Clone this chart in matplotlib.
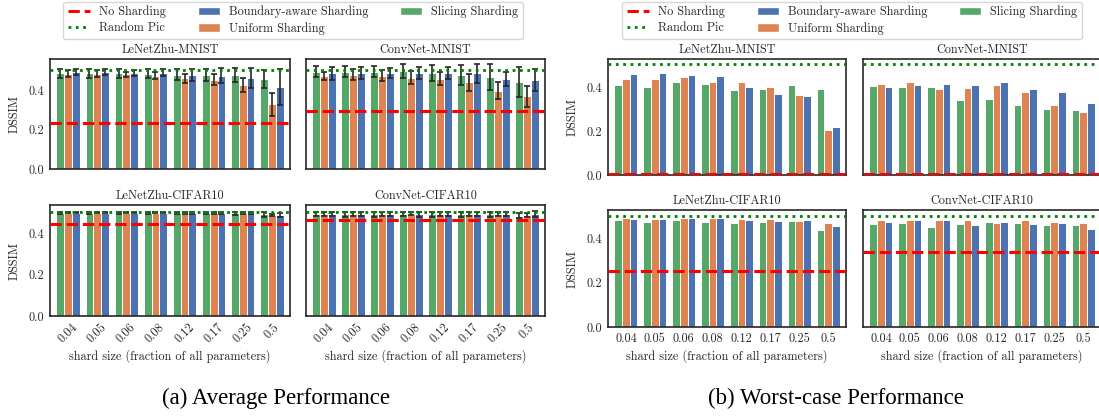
import numpy as np
import matplotlib
matplotlib.use("Agg")
import matplotlib.pyplot as plt
from matplotlib.lines import Line2D
from matplotlib.patches import Patch

# ---------------- data ----------------
SHARD_SIZES = ["0.04", "0.05", "0.06", "0.08", "0.12", "0.17", "0.25", "0.5"]
SERIES = ["Slicing Sharding", "Uniform Sharding", "Boundary-aware Sharding"]
TITLES = ["LeNetZhu-MNIST", "ConvNet-MNIST", "LeNetZhu-CIFAR10", "ConvNet-CIFAR10"]

# (a) Average performance
AVG_LENET_MNIST_SLICING = [0.488, 0.488, 0.488, 0.487, 0.480, 0.480, 0.479, 0.459]
AVG_LENET_MNIST_UNIFORM = [0.485, 0.485, 0.483, 0.475, 0.463, 0.454, 0.429, 0.330]
AVG_LENET_MNIST_BOUNDARY = [0.493, 0.495, 0.490, 0.490, 0.480, 0.475, 0.464, 0.417]
AVG_LENET_MNIST_SLICING_ERR = [0.022, 0.024, 0.024, 0.025, 0.028, 0.030, 0.035, 0.047]
AVG_LENET_MNIST_UNIFORM_ERR = [0.018, 0.018, 0.014, 0.018, 0.022, 0.028, 0.036, 0.060]
AVG_LENET_MNIST_BOUNDARY_ERR = [0.015, 0.016, 0.016, 0.018, 0.030, 0.038, 0.050, 0.093]

AVG_CONV_MNIST_SLICING = [0.497, 0.497, 0.497, 0.500, 0.490, 0.480, 0.470, 0.444]
AVG_CONV_MNIST_UNIFORM = [0.475, 0.481, 0.475, 0.466, 0.460, 0.442, 0.400, 0.370]
AVG_CONV_MNIST_BOUNDARY = [0.488, 0.490, 0.490, 0.488, 0.488, 0.488, 0.458, 0.454]
AVG_CONV_MNIST_SLICING_ERR = [0.027, 0.030, 0.030, 0.035, 0.040, 0.050, 0.066, 0.078]
AVG_CONV_MNIST_UNIFORM_ERR = [0.021, 0.028, 0.028, 0.035, 0.033, 0.044, 0.042, 0.055]
AVG_CONV_MNIST_BOUNDARY_ERR = [0.034, 0.030, 0.025, 0.030, 0.030, 0.047, 0.037, 0.055]

AVG_LENET_CIFAR_SLICING = [0.502, 0.502, 0.502, 0.502, 0.501, 0.500, 0.498, 0.494]
AVG_LENET_CIFAR_UNIFORM = [0.501, 0.501, 0.501, 0.501, 0.500, 0.500, 0.498, 0.490]
AVG_LENET_CIFAR_BOUNDARY = [0.501, 0.501, 0.501, 0.501, 0.500, 0.500, 0.499, 0.490]
AVG_LENET_CIFAR_SLICING_ERR = [0.005, 0.005, 0.005, 0.005, 0.006, 0.006, 0.007, 0.012]
AVG_LENET_CIFAR_UNIFORM_ERR = [0.003, 0.003, 0.003, 0.003, 0.004, 0.004, 0.005, 0.006]
AVG_LENET_CIFAR_BOUNDARY_ERR = [0.003, 0.003, 0.003, 0.003, 0.004, 0.004, 0.005, 0.008]

AVG_CONV_CIFAR_SLICING = [0.495, 0.494, 0.494, 0.495, 0.494, 0.494, 0.494, 0.488]
AVG_CONV_CIFAR_UNIFORM = [0.496, 0.496, 0.496, 0.497, 0.496, 0.496, 0.495, 0.489]
AVG_CONV_CIFAR_BOUNDARY = [0.494, 0.495, 0.494, 0.493, 0.495, 0.494, 0.495, 0.495]
AVG_CONV_CIFAR_SLICING_ERR = [0.011, 0.011, 0.011, 0.011, 0.011, 0.011, 0.011, 0.013]
AVG_CONV_CIFAR_UNIFORM_ERR = [0.008, 0.008, 0.008, 0.008, 0.008, 0.008, 0.008, 0.009]
AVG_CONV_CIFAR_BOUNDARY_ERR = [0.010, 0.010, 0.010, 0.010, 0.010, 0.010, 0.010, 0.013]

AVG_NO_SHARDING = [0.237, 0.297, 0.449, 0.468]
AVG_RANDOM_PIC = [0.503, 0.503, 0.506, 0.506]

# (b) Worst-case performance
WORST_LENET_MNIST_SLICING = [0.409, 0.403, 0.426, 0.418, 0.389, 0.392, 0.412, 0.395]
WORST_LENET_MNIST_UNIFORM = [0.440, 0.440, 0.449, 0.426, 0.426, 0.403, 0.366, 0.206]
WORST_LENET_MNIST_BOUNDARY = [0.463, 0.466, 0.455, 0.452, 0.403, 0.370, 0.360, 0.218]

WORST_CONV_MNIST_SLICING = [0.406, 0.403, 0.403, 0.344, 0.347, 0.318, 0.302, 0.295]
WORST_CONV_MNIST_UNIFORM = [0.418, 0.427, 0.394, 0.398, 0.409, 0.379, 0.322, 0.287]
WORST_CONV_MNIST_BOUNDARY = [0.403, 0.411, 0.414, 0.412, 0.424, 0.395, 0.380, 0.330]

WORST_LENET_CIFAR_SLICING = [0.483, 0.474, 0.483, 0.475, 0.470, 0.475, 0.478, 0.437]
WORST_LENET_CIFAR_UNIFORM = [0.492, 0.489, 0.492, 0.493, 0.489, 0.489, 0.480, 0.472]
WORST_LENET_CIFAR_BOUNDARY = [0.489, 0.489, 0.495, 0.493, 0.484, 0.481, 0.483, 0.457]

WORST_CONV_CIFAR_SLICING = [0.466, 0.468, 0.452, 0.466, 0.474, 0.471, 0.462, 0.463]
WORST_CONV_CIFAR_UNIFORM = [0.486, 0.483, 0.484, 0.486, 0.471, 0.484, 0.474, 0.471]
WORST_CONV_CIFAR_BOUNDARY = [0.474, 0.483, 0.483, 0.459, 0.475, 0.465, 0.471, 0.443]

WORST_NO_SHARDING = [0.003, 0.003, 0.255, 0.339]
WORST_RANDOM_PIC = [0.507, 0.507, 0.504, 0.504]

# ---------------- style ----------------
plt.rcParams["font.family"] = ["cmr10", "DejaVu Serif"]
plt.rcParams["axes.formatter.use_mathtext"] = True
plt.rcParams["axes.unicode_minus"] = False
FS = 8.8
TXT = "#262626"
COLORS = ["#55A868", "#DD8452", "#4C72B0"]

W, H = 1099, 416
fig = plt.figure(figsize=(W / 100, H / 100), dpi=100)


def add_ax(x0, y0, x1, y1):
    return fig.add_axes([x0 / W, 1 - y1 / H, (x1 - x0) / W, (y1 - y0) / H])


def draw(ax, series, errs, noshard, rnd, ylim, title, left, bottom, rotate):
    x = np.arange(len(SHARD_SIZES))
    bw = 0.8 / 3
    for i, vals in enumerate(series):
        pos = x + (i - 1) * bw
        ax.bar(pos, vals, width=bw, color=COLORS[i], edgecolor="white",
               linewidth=0.7, zorder=2)
        if errs is not None:
            ax.errorbar(pos, vals, yerr=errs[i], fmt="none", ecolor=TXT,
                        elinewidth=1.2, capsize=2.2, capthick=1.2, zorder=3)
    ax.axhline(noshard, color="red", linestyle="--", linewidth=2.2, zorder=4)
    ax.axhline(rnd, color="green", linestyle=":", linewidth=2.0, zorder=4)
    ax.set_xlim(-0.62, 7.62)
    ax.set_ylim(0, ylim)
    ax.set_yticks([0.0, 0.2, 0.4])
    ax.set_title(title, fontsize=FS, color=TXT, pad=4)
    for s in ax.spines.values():
        s.set_color(TXT)
        s.set_linewidth(1.2)
    ax.tick_params(length=0, labelsize=FS, colors=TXT, pad=4)
    if left:
        ax.set_yticklabels(["0.0", "0.2", "0.4"])
        ax.set_ylabel("DSSIM", fontsize=FS, color=TXT, labelpad=6)
    else:
        ax.set_yticklabels([])
    ax.set_xticks(x)
    if bottom:
        if rotate:
            ax.set_xticklabels(SHARD_SIZES, rotation=45, ha="center")
        else:
            ax.set_xticklabels(SHARD_SIZES)
        ax.set_xlabel("shard size (fraction of all parameters)", fontsize=FS,
                      color=TXT, labelpad=3)
    else:
        ax.set_xticklabels([])


# (a) layout
a_axes = [add_ax(50, 59, 290, 169), add_ax(306, 59, 545, 169),
          add_ax(50, 205, 290, 316), add_ax(306, 205, 545, 316)]
a_series = [
    ([AVG_LENET_MNIST_SLICING, AVG_LENET_MNIST_UNIFORM, AVG_LENET_MNIST_BOUNDARY],
     [AVG_LENET_MNIST_SLICING_ERR, AVG_LENET_MNIST_UNIFORM_ERR, AVG_LENET_MNIST_BOUNDARY_ERR]),
    ([AVG_CONV_MNIST_SLICING, AVG_CONV_MNIST_UNIFORM, AVG_CONV_MNIST_BOUNDARY],
     [AVG_CONV_MNIST_SLICING_ERR, AVG_CONV_MNIST_UNIFORM_ERR, AVG_CONV_MNIST_BOUNDARY_ERR]),
    ([AVG_LENET_CIFAR_SLICING, AVG_LENET_CIFAR_UNIFORM, AVG_LENET_CIFAR_BOUNDARY],
     [AVG_LENET_CIFAR_SLICING_ERR, AVG_LENET_CIFAR_UNIFORM_ERR, AVG_LENET_CIFAR_BOUNDARY_ERR]),
    ([AVG_CONV_CIFAR_SLICING, AVG_CONV_CIFAR_UNIFORM, AVG_CONV_CIFAR_BOUNDARY],
     [AVG_CONV_CIFAR_SLICING_ERR, AVG_CONV_CIFAR_UNIFORM_ERR, AVG_CONV_CIFAR_BOUNDARY_ERR]),
]
a_ylims = [0.561, 0.561, 0.539, 0.539]
for k, ax in enumerate(a_axes):
    s, e = a_series[k]
    draw(ax, s, e, AVG_NO_SHARDING[k], AVG_RANDOM_PIC[k], a_ylims[k], TITLES[k],
         left=(k % 2 == 0), bottom=(k >= 2), rotate=True)

# (b) layout
b_axes = [add_ax(608, 59, 846, 175), add_ax(863, 59, 1101, 175),
          add_ax(608, 210, 846, 327), add_ax(863, 210, 1101, 327)]
b_series = [
    [WORST_LENET_MNIST_SLICING, WORST_LENET_MNIST_UNIFORM, WORST_LENET_MNIST_BOUNDARY],
    [WORST_CONV_MNIST_SLICING, WORST_CONV_MNIST_UNIFORM, WORST_CONV_MNIST_BOUNDARY],
    [WORST_LENET_CIFAR_SLICING, WORST_LENET_CIFAR_UNIFORM, WORST_LENET_CIFAR_BOUNDARY],
    [WORST_CONV_CIFAR_SLICING, WORST_CONV_CIFAR_UNIFORM, WORST_CONV_CIFAR_BOUNDARY],
]
b_ylims = [0.530, 0.530, 0.529, 0.529]
for k, ax in enumerate(b_axes):
    draw(ax, b_series[k], None, WORST_NO_SHARDING[k], WORST_RANDOM_PIC[k], b_ylims[k],
         TITLES[k], left=(k % 2 == 0), bottom=(k >= 2), rotate=False)

# legends
handles = [
    Line2D([], [], color="red", linestyle="--", linewidth=2.2),
    Line2D([], [], color="green", linestyle=":", linewidth=2.0),
    Patch(facecolor=COLORS[2], edgecolor="white"),
    Patch(facecolor=COLORS[1], edgecolor="white"),
    Patch(facecolor=COLORS[0], edgecolor="white"),
]
labels = ["No Sharding", "Random Pic", "Boundary-aware Sharding",
          "Uniform Sharding", "Slicing Sharding"]
for cx in (293, 852):
    leg = fig.legend(handles, labels, ncol=3, loc="upper center",
                     bbox_to_anchor=(cx / W, 1 - 1.5 / H), fontsize=FS,
                     frameon=True, borderpad=0.35, labelspacing=0.3,
                     handlelength=1.8, handletextpad=0.75, columnspacing=2.6,
                     borderaxespad=0)
    for t in leg.get_texts():
        t.set_color(TXT)

# captions
fig.text(276 / W, 1 - 398 / H, "(a) Average Performance", ha="center", va="center",
         fontsize=16.5, family="Liberation Serif", color="black")
fig.text(836 / W, 1 - 398 / H, "(b) Worst-case Performance", ha="center", va="center",
         fontsize=16.5, family="Liberation Serif", color="black")

fig.savefig("out.png", dpi=100)
